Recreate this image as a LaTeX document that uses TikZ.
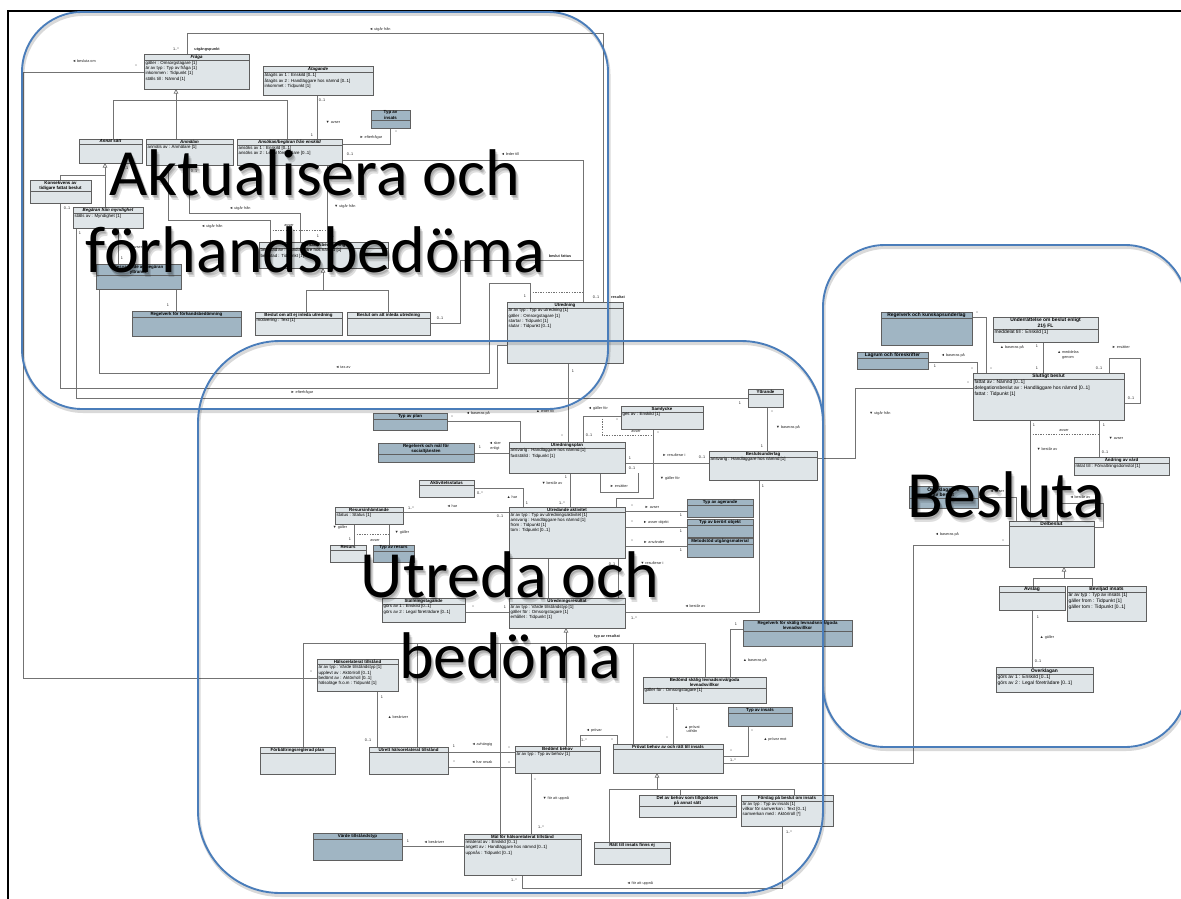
\documentclass[tikz,border=0pt]{standalone}
\usepackage{fontspec}
\usetikzlibrary{arrows.meta}
\newfontfamily\umlfont{Liberation Sans}
\newfontfamily\bigfont{Carlito}
\definecolor{boxfill}{RGB}{223,229,232}
\definecolor{darkfill}{RGB}{160,181,195}
\definecolor{boxline}{RGB}{95,95,95}
\definecolor{linegray}{RGB}{115,115,115}
\definecolor{areablue}{RGB}{74,125,186}
\newcommand\ufs{4.4}
\newcommand\uls{5.3}
\pgfdeclarelayer{bg}
\pgfsetlayers{bg,main}
\tikzset{
  ubx/.style={draw=boxline, fill=boxfill, line width=0.5pt, inner sep=0pt, outer sep=0pt},
  udk/.style={ubx, fill=darkfill},
  ttl/.style={font=\umlfont\bfseries\fontsize{\ufs}{\uls}\selectfont, inner sep=0.7pt, align=center},
  att/.style={font=\umlfont\fontsize{\ufs}{\uls}\selectfont, inner sep=0.6pt, align=left, anchor=north west},
  lbl/.style={font=\umlfont\fontsize{3.8}{4.4}\selectfont, inner sep=0pt, text=black!85, align=center},
  rol/.style={lbl, font=\umlfont\bfseries\fontsize{3.8}{4.4}\selectfont},
  conn/.style={draw=linegray, line width=0.6pt},
  dsh/.style={conn, dash pattern=on 1.3pt off 1.3pt},
  gen/.style={conn, -{Triangle[fill=white, length=4.5pt, width=4.5pt]}},
  area/.style={draw=areablue, line width=1.9pt, rounded corners=#1},
  areashadow/.style={draw=black, opacity=0.15, line width=3pt, rounded corners=#1},
  big/.style={font=\bigfont\fontsize{66}{72}\selectfont, inner sep=0pt, anchor=base},
  bigshadow/.style={big, text=black, opacity=0.13},
}
% class box: name, x1, y1, x2, y2, fill style, title, attributes
\newcommand\umlbox[8]{%
  \node[#6, anchor=north west, minimum width={(#4-#2)*1pt}, minimum height={(#5-#3)*1pt}] (#1) at (#2,#3) {};
  \node[ttl, anchor=north] (#1-t) at (#1.north) {#7};
  \draw[draw=boxline, line width=0.4pt] (#1.west |- #1-t.south) -- (#1.east |- #1-t.south);
  \node[att, xshift=0.8pt] (#1-a) at (#1.west |- #1-t.south) {#8};
}
\newcommand\mlab[4]{\node[lbl] (#1) at (#2,#3) {#4};}
\newcommand\mrol[4]{\node[rol] (#1) at (#2,#3) {#4};}
\newcommand\bigtext[4]{%
  \node[bigshadow] (#1s1) at (#2+1,#3+2) {#4};
  \node[bigshadow] (#1s2) at (#2+2,#3+3.5) {#4};
  \node[bigshadow] (#1s3) at (#2+3,#3+5) {#4};
  \node[big] (#1) at (#2,#3) {#4};
}

\begin{document}
\begin{tikzpicture}[x=1pt,y=-1pt]
\begin{pgfonlayer}{bg}
\fill[white] (0,0) rectangle (1181,899);
\end{pgfonlayer}
\useasboundingbox (0,0) rectangle (1181,899);

% page frame
\draw[line width=1.3pt] (8,899) -- (8,11) -- (1181,11);

% ================= Aktualisera och förhandsbedöma =================
\umlbox{fraga}{144}{54}{249}{89}{ubx}{\itshape Fråga}{gäller : Omsorgstagare [1]\\är av typ : Typ av fråga [1]\\inkommen : Tidpunkt [1]\\ställs till : Nämnd [1]}
\umlbox{atag}{263}{66}{373}{95}{ubx}{\itshape Åtagande}{åtagits av 1 : Enskild [0..1]\\åtagits av 2 : Handläggare hos nämnd [0..1]\\inkommet : Tidpunkt [1]}
\umlbox{typins1}{371}{110}{410}{128}{udk}{Typ av\\insats}{}
\umlbox{annat}{79}{139}{142}{163}{ubx}{\itshape Annat sätt}{}
\umlbox{anmalan}{146}{139}{233}{165}{ubx}{\itshape Anmälan}{anmäls av : Anmälare [1]}
\umlbox{ansokan}{237}{139}{342}{165}{ubx}{\itshape Ansökan/begäran från enskild}{ansöks av 1 : Enskild [0..1]\\ansöks av 2 : Legal företrädare [0..1]}
\umlbox{kons}{30}{180}{91}{203}{ubx}{Konsekvens av\\tidigare fattat beslut}{}
\umlbox{begmyn}{73}{207}{143}{228}{ubx}{\itshape Begäran från myndighet}{ställs av : Myndighet [1]}
\umlbox{begytt}{96}{264}{181}{289}{udk}{Besvarande av begäran\\yttrande}{}
\umlbox{forh}{259}{242}{388}{268}{ubx}{Förhandsbedömning}{beslutad av : Handläggare hos nämnd [1]\\beslutad : Tidpunkt [1]}
\umlbox{regforh}{132}{311}{241}{336}{udk}{Regelverk för förhandsbedömning}{}
\umlbox{bejinl}{255}{312}{342}{335}{ubx}{Beslut om att ej inleda utredning}{motivering : Text [1]}
\umlbox{binl}{347}{312}{430}{335}{ubx}{Beslut om att inleda utredning}{}
\umlbox{utr}{507}{302}{623}{363}{ubx}{Utredning}{är av typ : Typ av utredning [1]\\gäller : Omsorgstagare [1]\\startar : Tidpunkt [1]\\slutar : Tidpunkt [0..1]}

% ================= Utreda och bedöma =================
\umlbox{typplan}{373}{413}{447}{430}{udk}{Typ av plan}{}
\umlbox{regmal}{378}{443}{474}{462}{udk}{Regelverk och mål för\\socialtjänsten}{}
\umlbox{uplan}{509}{442}{625}{473}{ubx}{Utredningsplan}{ansvarig : Handläggare hos nämnd [1]\\fastställd : Tidpunkt [1]}
\umlbox{samt}{621}{406}{703}{429}{ubx}{Samtycke}{ges av : Enskild [1]}
\umlbox{yttr}{748}{389}{783}{407}{ubx}{Yttrande}{}
\umlbox{beslu}{709}{451}{817}{480}{ubx}{Beslutsunderlag}{ansvarig : Handläggare hos nämnd [1]}
\umlbox{aktst}{419}{480}{474}{497}{ubx}{Aktivitetsstatus}{}
\umlbox{uakt}{509}{507}{625}{558}{ubx}{Utredande aktivitet}{är av typ : Typ av utredningsaktivitet [1]\\ansvarig : Handläggare hos nämnd [1]\\from : Tidpunkt [1]\\tom : Tidpunkt [0..1]}
\umlbox{resinh}{335}{507}{403}{524}{ubx}{Resursinhämtande}{status : Status [1]}
\umlbox{resurs}{330}{545}{366}{562}{ubx}{Resurs}{}
\umlbox{typres}{373}{545}{414}{562}{udk}{Typ av resurs}{}
\umlbox{tage}{687}{499}{753}{517}{udk}{Typ av agerande}{}
\umlbox{tobj}{687}{519}{753}{537}{udk}{Typ av berört objekt}{}
\umlbox{metod}{687}{538}{753}{557}{udk}{Metodstöd utgångsmaterial}{}
\umlbox{stall}{382}{598}{465}{622}{ubx}{Ställningstagande}{görs av 1 : Enskild [0..1]\\görs av 2 : Legal företrädare [0..1]}
\umlbox{ures}{509}{598}{625}{628}{ubx}{Utredningsresultat}{är av typ : Värde tillståndstyp [1]\\gäller för : Omsorgstagare [1]\\erhållet : Tidpunkt [1]}
\umlbox{halsa}{317}{659}{398}{691}{ubx}{Hälsorelaterat tillstånd}{är av typ : Värde tillståndstyp [1]\\upplevt av : Aktör/roll [0..1]\\bedömt av : Aktör/roll [0..1]\\hälsoläge fr.o.m : Tidpunkt [1]}
\umlbox{forb}{260}{747}{335}{774}{ubx}{Förbättringsreglerad plan}{}
\umlbox{utrett}{369}{747}{448}{774}{ubx}{Utrett hälsorelaterat tillstånd}{}
\umlbox{bbehov}{515}{746}{600}{773}{ubx}{Bedömt behov}{är av typ : Typ av behov [1]}
\umlbox{mal}{464}{834}{581}{875}{ubx}{Mål för hälsorelaterat tillstånd}{relaterat av : Enskild [0..1]\\angett av : Handläggare hos nämnd [0..1]\\uppnås : Tidpunkt [0..1]}
\umlbox{varde}{313}{833}{402}{860}{udk}{Värde tillståndstyp}{}
\umlbox{regsk}{743}{620}{852}{646}{udk}{Regelverk för skälig levnadsnivå/goda\\levnadsvillkor}{}
\umlbox{bedsk}{643}{677}{766}{703}{ubx}{Bedömd skälig levnadsnivå/goda\\levnadsvillkor}{gäller för : Omsorgstagare [1]}
\umlbox{typins2}{728}{707}{792}{726}{udk}{Typ av insats}{}
\umlbox{provat}{613}{744}{723}{773}{ubx}{Prövat behov av och rätt till insats}{}
\umlbox{delav}{639}{795}{736}{817}{ubx}{Del av behov som tillgodoses\\på annat sätt}{}
\umlbox{forsl}{741}{795}{833}{826}{ubx}{Förslag på beslut om insats}{är av typ : Typ av insats [1]\\villkor för samverkan : Text [0..1]\\samverkan med : Aktör/roll [*]}
\umlbox{ratt}{594}{842}{670}{864}{ubx}{Rätt till insats finns ej}{}

% ================= Besluta =================
\begin{scope}
\renewcommand\ufs{4.9}\renewcommand\uls{5.9}
\umlbox{regkun}{881}{312}{972}{345}{udk}{Regelverk och kunskapsunderlag}{}
\umlbox{lagrum}{857}{352}{928}{369}{udk}{Lagrum och föreskrifter}{}
\umlbox{underr}{993}{317}{1098}{342}{ubx}{Underrättelse om beslut enligt\\21§ FL}{meddelat till : Enskild [1]}
\umlbox{slut}{973}{373}{1124}{420}{ubx}{Slutligt beslut}{fattat av : Nämnd [0..1]\\delegationsbeslut av : Handläggare hos nämnd [0..1]\\fattat : Tidpunkt [1]}
\umlbox{overk}{909}{486}{978}{508}{udk}{Överklagande\\av beslut}{}
\umlbox{delb}{1009}{521}{1094}{567}{ubx}{Delbeslut}{}
\umlbox{avslag}{999}{586}{1065}{610}{ubx}{Avslag}{}
\umlbox{bevilj}{1067}{586}{1146}{621}{ubx}{Beviljad insats}{är av typ : Typ av insats [1]\\gäller from : Tidpunkt [1]\\gäller tom : Tidpunkt [0..1]}
\umlbox{overkl}{996}{667}{1093}{692}{ubx}{Överklagan}{görs av 1 : Enskild [0..1]\\görs av 2 : Legal företrädare [0..1]}
\renewcommand\ufs{4.4}\renewcommand\uls{5.3}
\umlbox{andr}{1074}{457}{1169}{475}{ubx}{Ändring av vård}{riktat till : Förvaltningsdomstol [1]}
\end{scope}

% ================= connectors =================
\begin{pgfonlayer}{bg}
% Aktualisera
\draw[conn] (0,72 -| fraga.west) -- (23,72) -- (23,678) -- (0,678 -| halsa.west);
\draw[conn] (187,0 |- fraga.north) -- (187,33) -- (603,33) -- (603,0 |- utr.north);
\draw[conn] (113,0 |- annat.north) -- (113,100) -- (287,100) -- (287,0 |- ansokan.north);
\draw[conn] (176,0 |- anmalan.north) -- (176,100);
\draw[gen] (176,100) -- (176,0 |- fraga.south);
\draw[conn] (317,0 |- atag.south) -- (317,0 |- ansokan.north);
\draw[conn] (390,0 |- typins1.south) -- (390,144) -- (0,144 -| ansokan.east);
\draw[conn] (60,0 |- kons.north) -- (60,175) -- (105,175) -- (105,0 |- begmyn.north);
\draw[gen] (105,175) -- (105,0 |- annat.south);
\draw[conn] (76,0 |- begmyn.south) -- (76,398) -- (0,398 -| yttr.west);
\draw[conn] (60,0 |- kons.south) -- (60,388) -- (497,388) -- (497,345) -- (0,345 -| utr.west);
\draw[conn] (118,0 |- begmyn.south) -- (118,0 |- begytt.north);
\draw[conn] (176,0 |- begytt.south) -- (176,0 |- regforh.north);
\draw[conn] (99,0 |- begytt.south) -- (99,373) -- (489,373) -- (489,283) -- (530,283) -- (530,0 |- utr.north);
\draw[conn] (168,0 |- anmalan.south) -- (168,220) -- (270,220) -- (270,0 |- forh.north);
\draw[conn] (189,0 |- anmalan.south) -- (189,213) -- (300,213) -- (300,0 |- forh.north);
\draw[conn] (327,0 |- ansokan.south) -- (327,0 |- forh.north);
\draw[dsh] (270,230) -- (327,230);
\draw[conn] (306,0 |- bejinl.north) -- (306,290) -- (388,290) -- (388,0 |- binl.north);
\draw[gen] (323,290) -- (323,0 |- forh.south);
\draw[conn] (0,323 -| binl.east) -- (460,323) -- (460,260) -- (583,260);
\draw[conn] (0,160 -| ansokan.east) -- (583,160) -- (583,0 |- utr.north);
\draw[dsh] (530,292) -- (583,292);
% Utreda
\draw[conn] (568,0 |- utr.south) -- (568,0 |- uplan.north);
\draw[conn] (0,421 -| typplan.east) -- (520,421) -- (520,0 |- uplan.north);
\draw[conn] (0,453 -| regmal.east) -- (0,453 -| uplan.west);
\draw[conn] (0,416 -| samt.west) -- (583,416) -- (583,0 |- uplan.north);
\draw[dsh] (602,416) -- (602,435) -- (653,435);
\draw[conn] (653,0 |- samt.south) -- (653,498) -- (616,498) -- (616,0 |- uakt.north);
\draw[conn] (767,0 |- yttr.south) -- (767,0 |- beslu.north);
\draw[conn] (0,463 -| uplan.east) -- (0,463 -| beslu.west);
\draw[conn] (0,458 -| beslu.east) -- (855,458) -- (855,388) -- (0,388 -| slut.west);
\draw[conn] (638,0 |- uplan.south) -- (638,492) -- (600,492) -- (600,0 |- uplan.south);
\draw[conn] (0,488 -| aktst.east) -- (523,488) -- (523,0 |- uakt.north);
\draw[conn] (570,0 |- uplan.south) -- (570,0 |- uakt.north);
\draw[conn] (0,512 -| resinh.east) -- (0,512 -| uakt.west);
\draw[conn] (354,0 |- resinh.south) -- (354,0 |- resurs.north);
\draw[conn] (389,0 |- resinh.south) -- (389,0 |- typres.north);
\draw[dsh] (354,534) -- (389,534);
\draw[conn] (0,511 -| uakt.east) -- (0,511 -| tage.west);
\draw[conn] (0,527 -| uakt.east) -- (0,527 -| tobj.west);
\draw[conn] (0,546 -| uakt.east) -- (0,546 -| metod.west);
\draw[conn] (618,0 |- uakt.south) -- (618,0 |- ures.north);
\draw[conn] (548,0 |- uakt.south) -- (548,0 |- ures.north);
\draw[conn] (0,612 -| stall.east) -- (0,612 -| ures.west);
\draw[conn] (0,612 -| ures.east) -- (759,612) -- (759,0 |- beslu.south);
\draw[gen] (566,643) -- (566,0 |- ures.south);
\draw[conn] (303,0 |- forb.north) -- (303,643) -- (705,643) -- (705,0 |- bedsk.north);
\draw[conn] (417,643) -- (417,0 |- utrett.north);
\draw[conn] (500,643) -- (500,0 |- mal.north);
\draw[conn] (566,643) -- (566,0 |- bbehov.north);
\draw[conn] (633,643) -- (633,0 |- provat.north);
\draw[conn] (377,0 |- halsa.south) -- (377,0 |- utrett.north);
\draw[conn] (0,752 -| utrett.east) -- (0,752 -| bbehov.west);
\draw[conn] (0,767 -| utrett.east) -- (0,767 -| bbehov.west);
\draw[conn] (531,0 |- bbehov.south) -- (531,0 |- mal.north);
\draw[conn] (0,846 -| mal.west) -- (0,846 -| varde.east);
\draw[conn] (522,0 |- mal.south) -- (522,888) -- (782,888) -- (782,0 |- forsl.south);
\draw[conn] (0,629 -| regsk.west) -- (730,629) -- (730,0 |- bedsk.north);
\draw[conn] (673,0 |- bedsk.south) -- (673,0 |- provat.north);
\draw[conn] (748,0 |- typins2.south) -- (748,756) -- (0,756 -| provat.east);
\draw[conn] (580,0 |- bbehov.north) -- (580,735) -- (617,735) -- (617,0 |- provat.north);
\draw[conn] (0,763 -| provat.east) -- (913,763) -- (913,545) -- (0,545 -| delb.west);
\draw[gen] (657,789) -- (657,0 |- provat.south);
\draw[conn] (609,0 |- ratt.north) -- (609,789) -- (794,789) -- (794,0 |- forsl.north);
\draw[conn] (680,789) -- (680,0 |- delav.north);
% Besluta
\draw[conn] (0,317 -| regkun.east) -- (986,317) -- (986,0 |- slut.north);
\draw[conn] (0,362 -| lagrum.east) -- (977,362) -- (977,0 |- slut.north);
\draw[conn] (1043,0 |- underr.south) -- (1043,0 |- slut.north);
\draw[conn] (1109,0 |- slut.north) -- (1109,358) -- (1140,358) -- (1140,403) -- (0,403 -| slut.east);
\draw[conn] (1030,0 |- slut.south) -- (1030,0 |- delb.north);
\draw[conn] (1099,0 |- slut.south) -- (1099,0 |- andr.north);
\draw[dsh] (1030,434) -- (1099,434);
\draw[conn] (0,497 -| overk.east) -- (1016,497) -- (1016,0 |- delb.north);
\draw[conn] (1057,0 |- delb.north) -- (1057,503) -- (1103,503) -- (1103,527) -- (0,527 -| delb.east);
\draw[gen] (1064,578) -- (1064,0 |- delb.south);
\draw[conn] (1033,0 |- avslag.north) -- (1033,578) -- (1092,578) -- (1092,0 |- bevilj.north);
\draw[conn] (1032,0 |- avslag.south) -- (1032,0 |- overkl.north);
\end{pgfonlayer}

% ================= connector labels =================
\mlab{L01}{84}{61}{◄ besluta om}
\mlab{L02}{136}{66}{*}
\mlab{L03}{176}{49}{1..*}
\mrol{R01}{207}{49}{utgångspunkt}
\mlab{L04}{380}{29}{◄ utgår från}
\mlab{L05}{596}{297}{0..1}
\mrol{R02}{618}{297}{resultat}
\mlab{L06}{322}{100}{0..1}
\mlab{L07}{333}{122}{▼ avser}
\mlab{L08}{312}{135}{1}
\mlab{L09}{371}{137}{► efterfrågar}
\mlab{L10}{396}{132}{*}
\mlab{L11}{67}{208}{0..1}
\mlab{L12}{80}{233}{1}
\mlab{L13}{122}{258}{1}
\mlab{L14}{135}{247}{▼ avser}
\mlab{L15}{168}{305}{1}
\mlab{L16}{343}{367}{◄ tas av}
\mlab{L17}{302}{392}{► efterfrågar}
\mlab{L18}{740}{403}{1}
\mlab{L19}{212}{226}{◄ utgår från}
\mlab{L20}{240}{208}{◄ utgår från}
\mlab{L21}{125}{168}{0..1}
\mlab{L22}{194}{171}{0..1}
\mlab{L23}{345}{206}{▼ utgår från}
\mlab{L24}{318}{236}{1}
\mlab{L25}{333}{236}{1}
\mlab{L26}{289}{225}{avser}
\mlab{L27}{440}{318}{0..1}
\mrol{R03}{560}{256}{beslut fattas}
\mlab{L28}{350}{154}{0..1}
\mlab{L29}{510}{154}{◄ leder till}
\mlab{L30}{525}{296}{1}
\mlab{L31}{573}{371}{1}
\mlab{L32}{562}{436}{*}
\mlab{L33}{545}{411}{▲ leder till}
\mlab{L34}{452}{417}{*}
\mlab{L35}{478}{413}{◄ baseras på}
\mlab{L36}{480}{447}{1}
\mlab{L37}{495}{446}{◄ sker\\enligt}
\mlab{L38}{598}{409}{◄ gäller för}
\mlab{L39}{589}{435}{0..1}
\mlab{L40}{617}{420}{*}
\mlab{L41}{636}{431}{avser}
\mlab{L42}{658}{433}{*}
\mlab{L43}{670}{479}{▼ gäller för}
\mlab{L44}{772}{412}{*}
\mlab{L45}{788}{427}{▼ baseras på}
\mlab{L46}{762}{446}{1}
\mlab{L47}{630}{458}{1}
\mlab{L48}{674}{455}{► resulterar i}
\mlab{L49}{702}{457}{0..1}
\mlab{L50}{823}{452}{1}
\mlab{L51}{880}{413}{▼ utgår från}
\mlab{L52}{968}{383}{*}
\mlab{L53}{632}{468}{0..1}
\mlab{L54}{619}{486}{► ersätter}
\mlab{L55}{480}{493}{0..*}
\mlab{L56}{512}{497}{▲ har}
\mlab{L57}{527}{503}{1}
\mlab{L58}{552}{483}{▼ består av}
\mlab{L59}{566}{477}{1}
\mlab{L60}{562}{503}{1..*}
\mlab{L61}{411}{508}{1..*}
\mlab{L62}{452}{506}{◄ har}
\mlab{L63}{500}{516}{0..1}
\mlab{L64}{340}{528}{▼ gäller}
\mlab{L65}{350}{539}{1}
\mlab{L66}{402}{533}{▼ gäller}
\mlab{L67}{375}{540}{avser}
\mlab{L68}{632}{506}{*}
\mlab{L69}{652}{507}{► avser}
\mlab{L70}{681}{515}{1}
\mlab{L71}{632}{522}{*}
\mlab{L72}{656}{523}{► avser objekt}
\mlab{L73}{681}{531}{1}
\mlab{L74}{632}{541}{*}
\mlab{L75}{654}{542}{► använder}
\mlab{L76}{681}{550}{1}
\mlab{L77}{612}{564}{0..1}
\mlab{L78}{652}{563}{▼ resulterar i}
\mlab{L79}{473}{607}{*}
\mlab{L80}{505}{607}{1}
\mlab{L81}{634}{618}{1..*}
\mlab{L82}{695}{606}{◄ består av}
\mlab{L83}{763}{486}{1}
\mrol{R04}{607}{637}{typ av resultat}
\mlab{L84}{311}{672}{*}
\mlab{L85}{382}{697}{1}
\mlab{L86}{368}{740}{0..1}
\mlab{L87}{398}{717}{▲ beskriver}
\mlab{L88}{454}{746}{1}
\mlab{L89}{482}{745}{◄ avhängig}
\mlab{L90}{509}{748}{*}
\mlab{L91}{454}{762}{*}
\mlab{L92}{482}{762}{◄ har orsak}
\mlab{L93}{509}{763}{*}
\mlab{L94}{535}{780}{*}
\mlab{L95}{556}{798}{▼ för att uppnå}
\mlab{L96}{541}{827}{1..*}
\mlab{L97}{408}{841}{1}
\mlab{L98}{434}{842}{◄ beskriver}
\mlab{L99}{514}{880}{1..*}
\mlab{L100}{640}{883}{◄ för att uppnå}
\mlab{L101}{789}{832}{1..*}
\mlab{L102}{736}{624}{1}
\mlab{L103}{755}{660}{▲ baseras på}
\mlab{L104}{677}{709}{1}
\mlab{L105}{692}{729}{▲ prövat\\utifrån}
\mlab{L106}{667}{738}{*}
\mlab{L107}{752}{731}{*}
\mlab{L108}{775}{740}{▲ prövar mot}
\mlab{L109}{731}{751}{*}
\mlab{L110}{733}{760}{1..*}
\mlab{L111}{594}{731}{◄ prövar}
\mlab{L112}{584}{740}{1..*}
\mlab{L113}{612}{740}{*}
\mlab{L114}{947}{534}{◄ baseras på}
\mlab{L115}{1003}{541}{*}
\mlab{L116}{977}{313}{*}
\mlab{L117}{1012}{347}{▲ baseras på}
\mlab{L118}{991}{369}{*}
\mlab{L119}{935}{366}{1}
\mlab{L120}{953}{355}{◄ baseras på}
\mlab{L121}{972}{369}{*}
\mlab{L122}{1037}{346}{1}
\mlab{L123}{1068}{355}{▲ meddelas\\genom}
\mlab{L124}{1037}{368}{1}
\mlab{L125}{1099}{368}{0..1}
\mlab{L126}{1131}{398}{0..1}
\mlab{L127}{1121}{347}{► ersätter}
\mlab{L128}{1034}{425}{1}
\mlab{L129}{1047}{449}{▼ består av}
\mlab{L130}{1104}{425}{1}
\mlab{L131}{1116}{438}{▼ avser}
\mlab{L132}{1105}{452}{0..1}
\mlab{L133}{1064}{430}{avser}
\mlab{L134}{997}{491}{◄ avser}
\mlab{L135}{1080}{497}{◄ består av}
\mlab{L136}{1038}{617}{1}
\mlab{L137}{1047}{638}{▲ gäller}
\mlab{L138}{1038}{661}{0..1}

% ================= process areas =================
\draw[areashadow=60pt] (23,14.5) rectangle (609,411.5);
\draw[areashadow=82pt] (199,343.5) rectangle (824,895.5);
\draw[areashadow=62pt] (824,247.5) rectangle (1188,749.5);
\draw[area=60pt] (22,12) rectangle (608,409);
\draw[area=82pt] (198,341) rectangle (823,893);
\draw[area=62pt] (823,245) rectangle (1187,747);

\bigtext{akt1}{315}{195}{Aktualisera och}
\bigtext{akt2}{315}{272}{förhandsbedöma}
\bigtext{utr1}{510}{597}{Utreda och}
\bigtext{utr2}{510}{678}{bedöma}
\bigtext{bes}{1006}{517}{Besluta}
\end{tikzpicture}
\end{document}
